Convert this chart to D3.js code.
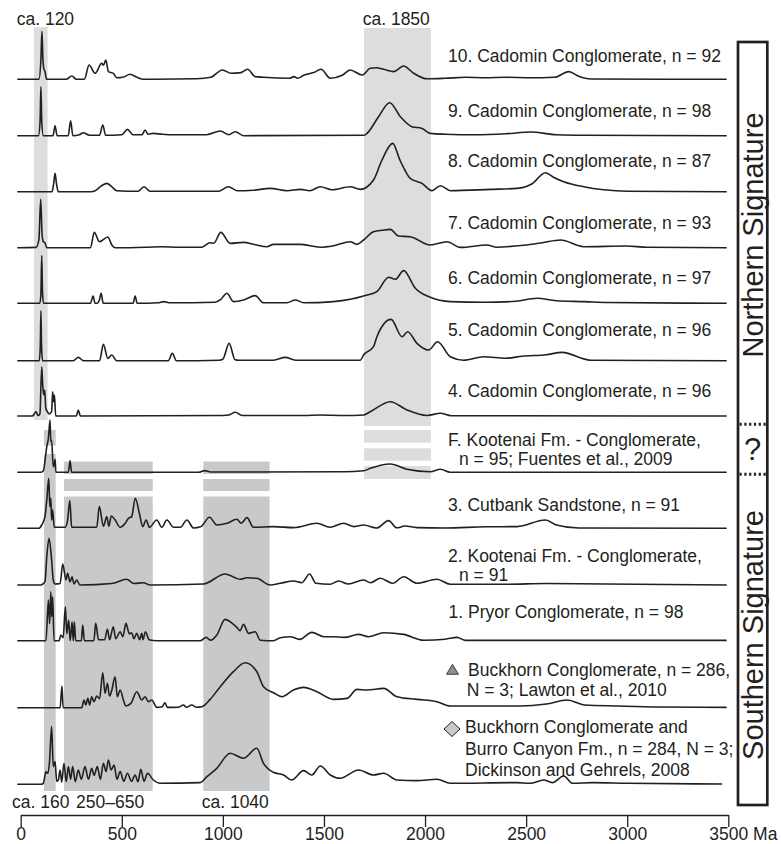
<!DOCTYPE html>
<html><head><meta charset="utf-8">
<script src="https://cdn.jsdelivr.net/npm/d3@7"></script>
<style>
html,body{margin:0;padding:0;background:#fff;}
svg{display:block;}
text{font-family:"Liberation Sans",Arial,Helvetica,sans-serif;fill:#231f20;}
</style></head><body>
<svg id="chart" width="782" height="844"></svg>
<script>
// ---------- DATA (age in Ma, relative probability) ----------
const curve10 = [[-17,0],[90,0],[100,20],[105,48],[110,20],[115,10],[120,8],[128,0],[225,0],[253,3.3],[275,0],[315,0],[338,14.3],[368,6],[401,16],[409,14],[421,19.3],[434,7.7],[458,6],[475,1.5],[505,2],[541,5],[575,2],[607,0],[870,0.5],[940,2],[998,9.3],[1040,6],[1090,6.7],[1122,10],[1160,2.7],[1200,2],[1330,1],[1351,2.7],[1370,1],[1400,4],[1449,6.7],[1486,10],[1531,1],[1590,4],[1630,9.3],[1689,4.3],[1729,11],[1760,11.5],[1795,10],[1844,7.7],[1894,13.3],[1944,6],[2010,0.5],[2100,1],[2200,2],[2300,1.5],[2400,2],[2520,1.5],[2640,2],[2711,7.7],[2760,3],[2820,0.3],[3492,0]];
const curve9 = [[-17,0],[88,0],[96,15],[100,49],[104,15],[112,0],[160,0],[170,10],[180,0],[235,0],[247,15],[258,0],[290,1],[310,3],[340,0.5],[390,0.5],[406,10.7],[420,0.5],[500,1],[528,6.3],[555,1],[600,1],[615,5.7],[630,1.5],[656,2.3],[700,1.5],[760,1],[920,1],[987,4.7],[1030,1],[1061,4],[1102,0],[1700,0.5],[1713,2.3],[1770,19],[1825,33],[1878,19],[1935,9],[1985,7.3],[2026,2.3],[2100,1.5],[2250,1],[2400,2],[2523,3.7],[2650,1],[2800,0.5],[3492,0]];
const curve8 = [[-17,0],[155,0],[163,8],[170,18.3],[177,8],[186,0],[350,0],[368,1],[400,6],[426,8.3],[450,5],[475,1],[580,0.5],[610,5],[640,0.5],[980,0.5],[1028,5],[1070,1],[1150,1.5],[1234,3.3],[1317,1],[1383,2.3],[1430,1],[1482,5],[1540,2],[1630,5],[1680,2.3],[1745,11.7],[1787,31.7],[1840,48.3],[1875,32],[1900,21.7],[1927,13.3],[1985,8.3],[2034,1],[2076,6],[2125,1],[2323,2.3],[2455,3.3],[2530,8],[2595,19],[2640,14],[2686,10],[2785,5],[2884,2],[3000,0.5],[3492,0]];
const curve7 = [[-17,0],[76,0.3],[90,8],[99,48.4],[106,12],[112,6],[120,5],[129,0],[345,0],[364,15.3],[389,6],[431,10.7],[450,3],[467,0],[620,0.5],[700,1],[780,0.5],[896,0.5],[937,5],[955,4.5],[990,15.3],[1036,4.3],[1102,5.3],[1160,3],[1218,1],[1250,3.3],[1380,3.3],[1482,0.5],[1548,2],[1630,6],[1663,3.3],[1696,7.7],[1745,16],[1790,17.5],[1828,18.3],[1869,11.7],[1927,11],[2026,2.7],[2109,6],[2175,0.3],[2307,2.7],[2350,0.5],[2488,2.5],[2580,5],[2670,7.7],[2785,1],[2993,1.7],[3100,0.5],[3492,0]];
const curve6 = [[-17,0],[95,0],[100,10],[104,47.7],[108,10],[113,0],[345,0],[358,7.3],[368,0],[379,0],[389,3],[398,10],[408,0],[556,0],[566,7.3],[576,0],[680,0.5],[706,1.7],[740,0.5],[962,1],[990,4],[1020,10],[1052,1.7],[1102,3.3],[1160,7.7],[1201,0.5],[1317,0.5],[1358,3.3],[1400,0.5],[1547,1.7],[1630,4],[1696,7.3],[1762,11.7],[1820,26],[1853,24],[1894,32.7],[1952,15],[2026,6],[2125,1.7],[2300,1],[2450,2],[2554,5],[2650,2.5],[2790,1.7],[2900,0.8],[3492,0]];
const curve5 = [[-17,0],[92,0],[97,15],[100,50],[103,15],[108,0],[260,0],[285,3.3],[310,0],[390,0],[409,16.3],[431,2.3],[450,5.7],[475,0],[730,0],[750,7.3],[770,0],[980,0.5],[1000,1.5],[1031,17.3],[1060,1],[1080,0.5],[1250,0.5],[1308,3.3],[1360,0.5],[1680,0.5],[1696,5.7],[1745,14],[1762,24],[1832,41.3],[1886,24],[1914,29],[1960,17.3],[2018,10.7],[2062,19],[2125,4],[2191,0.5],[2290,4],[2400,2.5],[2480,4.5],[2600,6],[2678,8.3],[2818,0.5],[3492,0]];
const curve4 = [[-17,0],[55,0],[62,0.5],[76,4.3],[85,0.5],[95,2],[104,49.3],[109,31],[114,21],[119,26],[124,7.7],[132,4.3],[140,2],[153,4.3],[158,24.3],[163,14.3],[167,21],[173,0],[275,0],[285,6],[295,0],[1000,0.5],[1030,1],[1061,3.7],[1095,0.5],[1400,0.5],[1482,1],[1600,0.5],[1696,1],[1729,4.3],[1828,14.3],[1911,6],[2010,0.5],[2076,2.7],[2130,0.3],[3492,0]];
const curveF = [[-17,0],[100,0],[112,1.5],[129,25.7],[137,34],[145,52.3],[149,30.7],[153,32],[161,5.7],[166,8],[170,13],[174,0],[236,0],[244,11.7],[252,0],[880,0],[909,1.7],[940,0.3],[1600,0.5],[1696,1.5],[1729,4],[1828,8.3],[1911,3],[2026,0.5],[2076,3],[2125,0],[3492,0]];
const curve3 = [[-17,0],[90,0],[104,3.3],[120,11.7],[129,28.3],[139,50],[144,21.7],[149,30],[153,8.3],[158,18.3],[166,1],[219,1],[231,6.7],[243,27.7],[252,1],[376,1],[389,21.7],[409,2],[426,11.7],[436,2],[448,12.3],[467,8.3],[492,1],[517,5],[533,10],[549,11.7],[567,30],[587,15],[604,1.7],[620,8.3],[637,1],[673,8.3],[698,1],[723,8.3],[756,1],[790,1],[822,8.3],[855,0.3],[890,1.5],[934,11],[970,3.3],[1020,5],[1069,9],[1091,5],[1119,10.7],[1151,1],[1250,1.7],[1350,0.7],[1465,5],[1530,1],[1597,5],[1650,1.7],[1696,3.3],[1760,0.3],[1820,7.7],[1860,0.5],[1900,2.3],[1960,0.7],[2100,0.3],[2300,1.5],[2455,1.7],[2595,8.3],[2650,3.3],[2760,0.3],[3492,0]];
const curve2 = [[-17,0],[100,0],[120,3.3],[129,28.3],[140,46.7],[153,25],[161,5],[170,1],[195,1.5],[208,21],[224,5],[232,11.7],[244,3],[254,8.3],[264,1],[277,5],[293,0],[450,1.5],[524,5.7],[560,1.5],[607,2.3],[640,0],[904,1],[1011,11],[1086,5.7],[1119,7.3],[1168,6.7],[1234,0],[1284,1.7],[1349,4],[1390,2.3],[1429,11],[1460,1.7],[1530,0.7],[1572,4],[1620,1],[1696,5],[1730,2.3],[1779,6.7],[1840,1.7],[1894,8.3],[1960,1.7],[2059,5.7],[2125,0.7],[2400,0.7],[2600,1.5],[3492,0]];
const curve1 = [[-17,0],[125,0],[137,40.7],[143,17],[149,49],[153,24],[158,44],[165,0],[190,0],[198,5.7],[210,3],[221,34],[228,7],[237,20.7],[245,0],[254,19],[260,0],[265,19],[272,0],[300,0],[307,15.7],[315,0],[362,0],[371,17.3],[385,1],[415,1],[429,11.3],[440,1],[458,14],[470,2],[492,9],[505,4],[521,17.3],[537,7],[549,8],[560,2],[574,7.3],[588,1],[599,7.3],[605,1],[617,9],[635,1],[673,0],[888,0],[917,3.3],[940,0.5],[970,5.7],[1011,21.3],[1036,19],[1069,13.3],[1085,10],[1102,16.3],[1127,7.3],[1160,9],[1185,0.5],[1250,0],[1284,3],[1333,4],[1380,1.3],[1440,8.3],[1500,4],[1547,4],[1600,3.3],[1671,6.3],[1720,4],[1795,8],[1894,6.3],[1993,0.5],[2100,1.5],[2158,3.3],[2200,0.3],[3492,0.3]];
const curveBuckhorn = [[-17,0],[195,0],[204,21.7],[210,0],[302,0],[313,7.7],[322,2.7],[332,9.3],[341,2.7],[351,11],[363,6],[376,11.7],[390,9],[406,35],[417,14.3],[429,24.3],[439,11.7],[450,17],[467,31],[478,11],[492,17.7],[508,7.7],[520,1.7],[545,4.3],[574,16],[599,7.7],[615,11],[632,6],[648,7.7],[673,0.3],[700,1],[714,5],[725,0.3],[780,0.5],[805,2.7],[820,0.5],[846,2.7],[870,0.5],[896,1],[937,8.3],[987,21],[1052,36],[1110,45],[1168,36],[1201,21],[1250,15],[1292,11],[1349,17.7],[1399,20.3],[1465,16],[1547,8.3],[1614,9.3],[1663,18.3],[1713,17.7],[1795,19.3],[1861,11],[1960,8.3],[2059,6],[2125,1.7],[2300,1.7],[2470,1.7],[2600,3.7],[2703,7.7],[2790,2.7],[2950,1.7],[3150,0.7],[3492,0.3]];
const curveBurro = [[-17,0],[100,0],[112,1],[125,12.7],[133,11],[142,21],[153,57.7],[161,17.7],[170,22.7],[178,3],[186,4.3],[195,14.3],[203,2],[214,21],[225,2.7],[236,17.7],[247,5],[257,17.7],[270,2.7],[285,14.3],[300,5],[318,17.7],[335,5],[351,16],[363,9],[379,17.7],[394,5],[409,21],[422,12.7],[434,24.3],[447,14.3],[462,19.3],[476,5],[492,12.7],[510,3],[528,11],[548,3],[566,9.3],[580,2.5],[594,15],[610,3],[627,11],[656,4.3],[690,1],[888,1.7],[921,7.7],[970,16],[1036,31],[1102,26],[1168,36],[1201,21],[1250,12],[1300,9.3],[1341,4.3],[1399,13.7],[1440,9.3],[1482,18.3],[1531,9.3],[1580,6],[1671,14.3],[1745,9.3],[1795,11],[1861,4.3],[1960,3.7],[2059,5],[2125,1],[2455,1.7],[2520,1],[2587,4.3],[2630,1.7],[2686,8.3],[2730,1],[2830,1.7],[3000,1],[3470,0.3]];

const sampleLabels = [
  ["10. Cadomin Conglomerate, n = 92"],
  ["9. Cadomin Conglomerate, n = 98"],
  ["8. Cadomin Conglomerate, n = 87"],
  ["7. Cadomin Conglomerate, n = 93"],
  ["6. Cadomin Conglomerate, n = 97"],
  ["5. Cadomin Conglomerate, n = 96"],
  ["4. Cadomin Conglomerate, n = 96"],
  ["F. Kootenai Fm. - Conglomerate,", "n = 95; Fuentes et al., 2009"],
  ["3. Cutbank Sandstone, n = 91"],
  ["2. Kootenai Fm. - Conglomerate,", "n = 91"],
  ["1. Pryor Conglomerate, n = 98"],
  ["Buckhorn Conglomerate, n = 286,", "N = 3; Lawton et al., 2010"],
  ["Buckhorn Conglomerate and", "Burro Canyon Fm., n = 284, N = 3;", "Dickinson and Gehrels, 2008"]
];
const sampleCurves = [curve10, curve9, curve8, curve7, curve6, curve5, curve4, curveF, curve3, curve2, curve1, curveBuckhorn, curveBurro];

// age bands (Ma) and their labels
const bandNames = ["ca. 120", "ca. 1850", "ca. 160", "250–650", "ca. 1040"];
const bandAges = [[66, 133], [1698, 2029], [115, 173], [214, 653], [903, 1231]];
const tickValues = [0, 500, 1000, 1500, 2000, 2500, 3000, 3500];
const signatureNames = ["Northern Signature", "?", "Southern Signature"];

// ---------- LAYOUT ----------
const svg = d3.select("#chart");
const x = d3.scaleLinear().domain([0, 3500]).range([20.7, 728.3]);
const y = d3.scaleLinear().domain([0, 50]).range([0, 50]);
const baselines = [79.3,135.7,191.7,247.7,303.3,360.7,416,472.3,528.3,585,640.7,707.7,784.3];
const labelY = [61.7,116.7,166.7,229.3,284,336,397.3,445.5,510.7,562.2,618.3,676,733.3];
const lineGap = [0,0,0,0,0,0,0,19,0,19,0,20,21.3];
const labelX = [448,448,448,448,448,448,448,448,448,448,448.5,468,465];
const secondX = [0,0,0,0,0,0,0,459,0,459,0,466.7,465];
const ink = "#231f20";
const light = "#dcdddf", dark = "#c8c9cb";

// band shading: [bandIndex, color, [y segments]]
const bandLayout = [
  [0, light, [[27, 420]]],
  [1, light, [[28, 426], [430, 442.7], [448.3, 460.7], [466, 479]]],
  [2, dark, [[430, 445.7], [454, 791]]],
  [3, dark, [[461.5, 474], [479, 491], [496.5, 791]]],
  [4, dark, [[461.5, 474], [479, 491], [496.5, 791]]]
];
const gB = svg.append("g");
bandLayout.forEach(([bi, col, segs]) => {
  const [a0, a1] = bandAges[bi];
  segs.forEach(([y0, y1]) => {
    gB.append("rect").attr("x", x(a0)).attr("width", x(a1) - x(a0))
      .attr("y", y0).attr("height", y1 - y0).attr("fill", col);
  });
});

// band labels
const fs = 17.5;
const bandLabelPos = [[16.7, 25], [362.7, 25], [12, 807.5], [76, 807.5], [201.7, 807.5]];
bandNames.forEach((t, i) => {
  svg.append("text").attr("x", bandLabelPos[i][0]).attr("y", bandLabelPos[i][1])
    .attr("font-size", fs).text(t);
});

// curves
const line = d3.line().curve(d3.curveMonotoneX);
const gC = svg.append("g");
sampleCurves.forEach((c, i) => {
  const b = baselines[i];
  gC.append("path")
    .attr("d", line(c.map(d => [x(d[0]), b - y(d[1])])))
    .attr("fill", "none").attr("stroke", ink).attr("stroke-width", 1.6)
    .attr("stroke-linejoin", "round");
});

// sample labels
sampleLabels.forEach((lines, i) => {
  lines.forEach((t, j) => {
    svg.append("text")
      .attr("x", j === 0 ? labelX[i] : secondX[i])
      .attr("y", labelY[i] + j * lineGap[i])
      .attr("font-size", fs).text(t);
  });
});
// markers
svg.append("path").attr("d", "M452.5,664.3 L458.5,674.3 L446.5,674.3 Z")
  .attr("fill", "#8d8e90").attr("stroke", ink).attr("stroke-width", 0.8);
svg.append("path").attr("d", "M452,721.5 L460,729 L452,736.5 L444,729 Z")
  .attr("fill", "#c8c9cb").attr("stroke", ink).attr("stroke-width", 1);

// axis
const axis = d3.axisBottom(x).tickValues(tickValues).tickSize(12).tickPadding(0.8).tickSizeOuter(0)
  .tickFormat(d3.format("d"));
const gA = svg.append("g").attr("transform", "translate(0,815)").call(axis);
gA.select(".domain").attr("stroke", ink).attr("stroke-width", 1.3);
gA.selectAll(".tick line").attr("stroke", ink).attr("stroke-width", 1.3);
gA.selectAll(".tick text").attr("font-size", fs).attr("font-family", '"Liberation Sans",Arial,sans-serif').attr("fill", ink);
gA.selectAll(".tick text").filter(d => d === 3500)
  .text("3500 Ma").attr("text-anchor", "start").attr("x", -19.5);

// signature box
svg.append("rect").attr("x", 738).attr("y", 42).attr("width", 29.3).attr("height", 763)
  .attr("fill", "none").attr("stroke", ink).attr("stroke-width", 2.7);
[424.3, 474.3].forEach(yy => {
  svg.append("line").attr("x1", 739.5).attr("x2", 766).attr("y1", yy).attr("y2", yy)
    .attr("stroke", ink).attr("stroke-width", 3).attr("stroke-dasharray", "2.2,2.6");
});
svg.append("text").attr("transform", "translate(763.3,235) rotate(-90)")
  .attr("text-anchor", "middle").attr("font-size", 29).text(signatureNames[0]);
svg.append("text").attr("x", 752.5).attr("y", 459.5)
  .attr("text-anchor", "middle").attr("font-size", 31).text(signatureNames[1]);
svg.append("text").attr("transform", "translate(763.3,635) rotate(-90)")
  .attr("text-anchor", "middle").attr("font-size", 29).text(signatureNames[2]);
</script>
</body></html>
